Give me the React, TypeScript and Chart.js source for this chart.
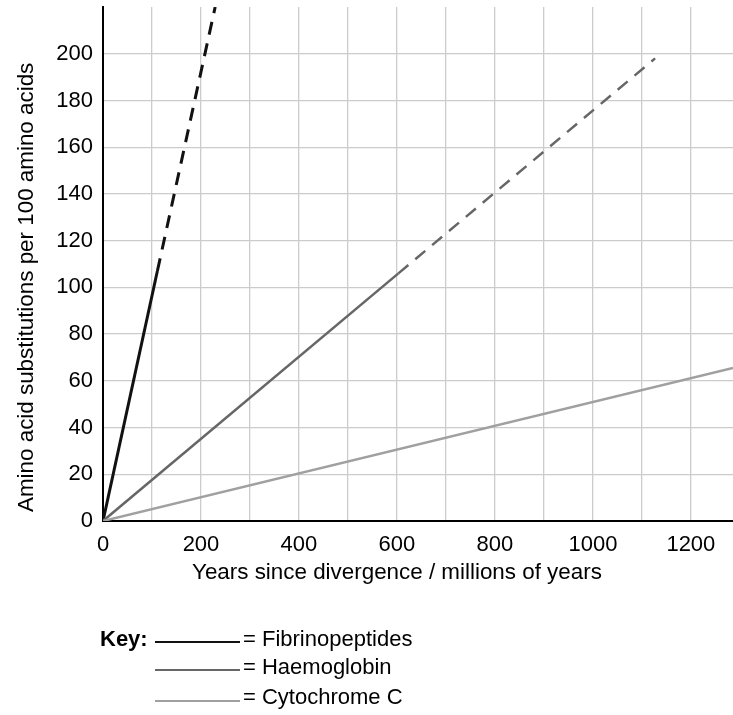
import React, { useEffect, useRef } from "react";
import { Chart, registerables } from "chart.js";

Chart.register(...registerables);

// ---- Data ----
const SERIES_NAMES = ["Fibrinopeptides", "Haemoglobin", "Cytochrome C"];
const SERIES_COLORS = ["#111111", "#666666", "#a0a0a0"];

// measured part (solid)
const FIBRINO_X = [0, 111];
const FIBRINO_Y = [0, 107];
// extrapolated part (dashed)
const FIBRINO_EXT_X = [111, 229];
const FIBRINO_EXT_Y = [107, 220];

const HAEMO_X = [0, 603];
const HAEMO_Y = [0, 106];
const HAEMO_EXT_X = [603, 1127];
const HAEMO_EXT_Y = [106, 198];

const CYTO_X = [0, 1286];
const CYTO_Y = [0, 65.5];

const X_TICKS = [0, 100, 200, 300, 400, 500, 600, 700, 800, 900, 1000, 1100, 1200];
const X_LABELLED = [0, 200, 400, 600, 800, 1000, 1200];
const Y_TICKS = [0, 20, 40, 60, 80, 100, 120, 140, 160, 180, 200];
const X_MAX = 1286;
const Y_MAX = 220;

const X_TITLE = "Years since divergence / millions of years";
const Y_TITLE = "Amino acid substitutions per 100 amino acids";
const KEY_TITLE = "Key:";
const X_TITLE_CENTER = 600;
const Y_TITLE_CENTER = 100;

const FONT = "'Liberation Sans', Arial, Helvetica, sans-serif";

const pts = (xs: number[], ys: number[]) => xs.map((x, i) => ({ x, y: ys[i] }));

const decorations = {
  id: "decorations",
  afterDraw(chart: any) {
    const ctx = chart.ctx as CanvasRenderingContext2D;
    const xs = chart.scales.x;
    const ys = chart.scales.y;
    ctx.save();
    ctx.fillStyle = "#000";
    ctx.font = `22.4px ${FONT}`;
    ctx.textBaseline = "alphabetic";
    ctx.textAlign = "center";
    ctx.fillText(X_TITLE, xs.getPixelForValue(X_TITLE_CENTER), 579);

    ctx.save();
    ctx.translate(33, ys.getPixelForValue(Y_TITLE_CENTER));
    ctx.rotate(-Math.PI / 2);
    ctx.fillText(Y_TITLE, 0, 0);
    ctx.restore();

    // key
    ctx.textAlign = "left";
    ctx.font = `bold 22px ${FONT}`;
    ctx.fillText(KEY_TITLE, 100, 646);
    const baselines = [646, 674, 704];
    const lineYs = [642, 670, 701];
    ctx.font = `22px ${FONT}`;
    SERIES_NAMES.forEach((name, i) => {
      ctx.beginPath();
      ctx.strokeStyle = SERIES_COLORS[i];
      ctx.lineWidth = 2.2;
      ctx.moveTo(155, lineYs[i]);
      ctx.lineTo(240, lineYs[i]);
      ctx.stroke();
      ctx.fillText("= " + name, 243, baselines[i]);
    });
    ctx.restore();
  },
};

export default function App() {
  const ref = useRef<HTMLCanvasElement | null>(null);

  useEffect(() => {
    if (!ref.current) return;
    const dash = [13, 9];
    const chart = new Chart(ref.current, {
      type: "line",
      data: {
        datasets: [
          {
            label: SERIES_NAMES[2],
            data: pts(CYTO_X, CYTO_Y),
            borderColor: SERIES_COLORS[2],
            borderWidth: 2.5,
          },
          {
            label: SERIES_NAMES[1],
            data: pts(HAEMO_X, HAEMO_Y),
            borderColor: SERIES_COLORS[1],
            borderWidth: 2.5,
          },
          {
            label: SERIES_NAMES[1] + " (extrapolated)",
            data: pts(HAEMO_EXT_X, HAEMO_EXT_Y),
            borderColor: SERIES_COLORS[1],
            borderWidth: 2.5,
            borderDash: dash,
          },
          {
            label: SERIES_NAMES[0],
            data: pts(FIBRINO_X, FIBRINO_Y),
            borderColor: SERIES_COLORS[0],
            borderWidth: 3,
          },
          {
            label: SERIES_NAMES[0] + " (extrapolated)",
            data: pts(FIBRINO_EXT_X, FIBRINO_EXT_Y),
            borderColor: SERIES_COLORS[0],
            borderWidth: 3,
            borderDash: dash,
          },
        ],
      },
      options: {
        animation: false,
        responsive: false,
        events: [],
        layout: { padding: { top: 7, left: 0, right: 0, bottom: 0 } },
        elements: { point: { radius: 0 }, line: { tension: 0 } },
        plugins: { legend: { display: false }, tooltip: { enabled: false } },
        scales: {
          x: {
            type: "linear",
            min: 0,
            max: X_MAX,
            afterBuildTicks: (s: any) => {
              s.ticks = X_TICKS.map((v) => ({ value: v }));
            },
            afterFit: (s: any) => {
              s.height = 715 - 521;
              s.paddingLeft = 0;
              s.paddingRight = 0;
            },
            grid: { color: "#cccccc", lineWidth: 1.3, drawTicks: false },
            border: { display: true, color: "#000", width: 2 },
            ticks: {
              padding: 11,
              maxRotation: 0,
              autoSkip: false,
              color: "#000",
              font: { family: FONT, size: 22 },
              callback: (v: any) => (X_LABELLED.includes(Number(v)) ? String(v) : ""),
            },
          },
          y: {
            type: "linear",
            min: 0,
            max: Y_MAX,
            afterBuildTicks: (s: any) => {
              s.ticks = Y_TICKS.map((v) => ({ value: v }));
            },
            afterFit: (s: any) => {
              s.width = 103;
              s.paddingTop = 0;
              s.paddingBottom = 0;
            },
            grid: { color: "#cccccc", lineWidth: 1.3, drawTicks: false },
            border: { display: true, color: "#000", width: 2 },
            ticks: {
              padding: 10,
              autoSkip: false,
              color: "#000",
              font: { family: FONT, size: 22 },
            },
          },
        },
      },
      plugins: [decorations],
    });
    return () => chart.destroy();
  }, []);

  return (
    <div style={{ position: "fixed", left: 0, top: 0, width: 733, height: 715, background: "#fff" }}>
      <canvas ref={ref} width={733} height={715} style={{ display: "block", width: 733, height: 715 }} />
    </div>
  );
}
